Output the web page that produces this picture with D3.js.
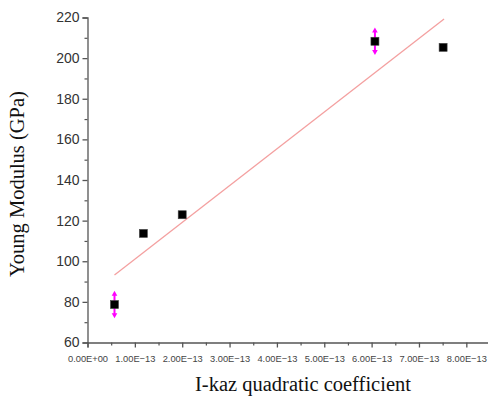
<!DOCTYPE html>
<html>
<head>
<meta charset="utf-8">
<script src="https://cdn.jsdelivr.net/npm/d3@7"></script>
<style>
  body { margin: 0; background: #fff; }
  svg { display: block; }
</style>
</head>
<body>
<div id="chart"></div>
<script>
// data
const coefX = [0.57e-13, 1.18e-13, 2.0e-13, 6.07e-13, 7.51e-13];
const modulus = [78.7, 113.7, 122.9, 208.3, 205.3];
const errBars = [6.3, 0, 0, 6.3, 0];
const fitX = [0.57e-13, 7.53e-13];
const fitY = [93.2, 219.3];
const xTicks = [0, 1e-13, 2e-13, 3e-13, 4e-13, 5e-13, 6e-13, 7e-13, 8e-13];
const yTicks = [60, 80, 100, 120, 140, 160, 180, 200, 220];

const width = 488, height = 403;

const svg = d3.select('#chart').append('svg')
  .attr('width', width)
  .attr('height', height);

const x = d3.scaleLinear().domain([0, 8.5e-13]).range([87.5, 490]);
const y = d3.scaleLinear().domain([60, 220]).range([342.5, 17.5]);

// x axis
const xAxis = svg.append('g')
  .attr('transform', `translate(0,${y(60)})`)
  .call(d3.axisBottom(x).tickValues(xTicks).tickSize(5)
    .tickFormat(d => d === 0 ? '0.00E+00' : (d / 1e-13).toFixed(2) + 'E\u221213'));
xAxis.select('.domain').attr('stroke', '#555').attr('stroke-width', 1.3);
xAxis.selectAll('.tick line').attr('stroke', '#555').attr('stroke-width', 1.3);
xAxis.selectAll('.tick text')
  .attr('font-family', 'Arial, "Liberation Sans", sans-serif')
  .attr('font-size', 9.3)
  .attr('fill', '#444')
  .attr('dy', '1.2em');
svg.append('g')
  .attr('transform', `translate(0,${y(60)})`)
  .call(d3.axisBottom(x).tickValues(xTicks.map(d => d + 0.5e-13)).tickSize(3).tickFormat(''))
  .call(g => g.select('.domain').remove())
  .selectAll('line').attr('stroke', '#555').attr('stroke-width', 1.2);

// y axis
const yAxis = svg.append('g')
  .attr('transform', `translate(${x(0)},0)`)
  .call(d3.axisLeft(y).tickValues(yTicks).tickSize(5));
yAxis.select('.domain').attr('stroke', '#555').attr('stroke-width', 1.3);
yAxis.selectAll('.tick line').attr('stroke', '#555').attr('stroke-width', 1.3);
yAxis.selectAll('.tick text')
  .attr('font-family', 'Arial, "Liberation Sans", sans-serif')
  .attr('font-size', 14)
  .attr('fill', '#333')
  .attr('x', -8);
svg.append('g')
  .attr('transform', `translate(${x(0)},0)`)
  .call(d3.axisLeft(y).tickValues(yTicks.slice(0, -1).map(d => d + 10)).tickSize(3).tickFormat(''))
  .call(g => g.select('.domain').remove())
  .selectAll('line').attr('stroke', '#555').attr('stroke-width', 1.2);

// linear fit
svg.append('line')
  .attr('x1', x(fitX[0])).attr('y1', y(fitY[0]))
  .attr('x2', x(fitX[1])).attr('y2', y(fitY[1]))
  .attr('stroke', '#f4a0a0')
  .attr('stroke-width', 1.3);

const points = coefX.map((d, i) => ({ x: d, y: modulus[i], e: errBars[i] }));

// error bars with arrow heads
const eb = svg.append('g').attr('fill', '#ff00ff').attr('stroke', '#ff00ff');
points.filter(d => d.e > 0).forEach(d => {
  const cx = x(d.x);
  const top = y(d.y + d.e), bot = y(d.y - d.e);
  eb.append('line').attr('x1', cx).attr('x2', cx).attr('y1', top + 2).attr('y2', bot - 2)
    .attr('stroke-width', 2);
  eb.append('path').attr('stroke', 'none')
    .attr('d', `M${cx - 2.8},${top + 4}L${cx},${top - 1}L${cx + 2.8},${top + 4}Z`);
  eb.append('path').attr('stroke', 'none')
    .attr('d', `M${cx - 2.8},${bot - 4}L${cx},${bot + 1}L${cx + 2.8},${bot - 4}Z`);
});

// markers
svg.append('g').selectAll('rect')
  .data(points)
  .join('rect')
  .attr('x', d => x(d.x) - 4)
  .attr('y', d => y(d.y) - 4)
  .attr('width', 8)
  .attr('height', 8)
  .attr('fill', '#000')
  .attr('stroke', '#444')
  .attr('stroke-width', 0.6);

// axis titles
svg.append('text')
  .attr('transform', `translate(24,${184}) rotate(-90)`)
  .attr('text-anchor', 'middle')
  .attr('font-family', '"Liberation Serif", "Times New Roman", serif')
  .attr('font-size', 20.5)
  .attr('fill', '#111')
  .text('Young Modulus (GPa)');

svg.append('text')
  .attr('x', 303)
  .attr('y', 391)
  .attr('text-anchor', 'middle')
  .attr('font-family', '"Liberation Serif", "Times New Roman", serif')
  .attr('font-size', 20.5)
  .attr('fill', '#111')
  .text('I-kaz quadratic coefficient');
</script>
</body>
</html>
